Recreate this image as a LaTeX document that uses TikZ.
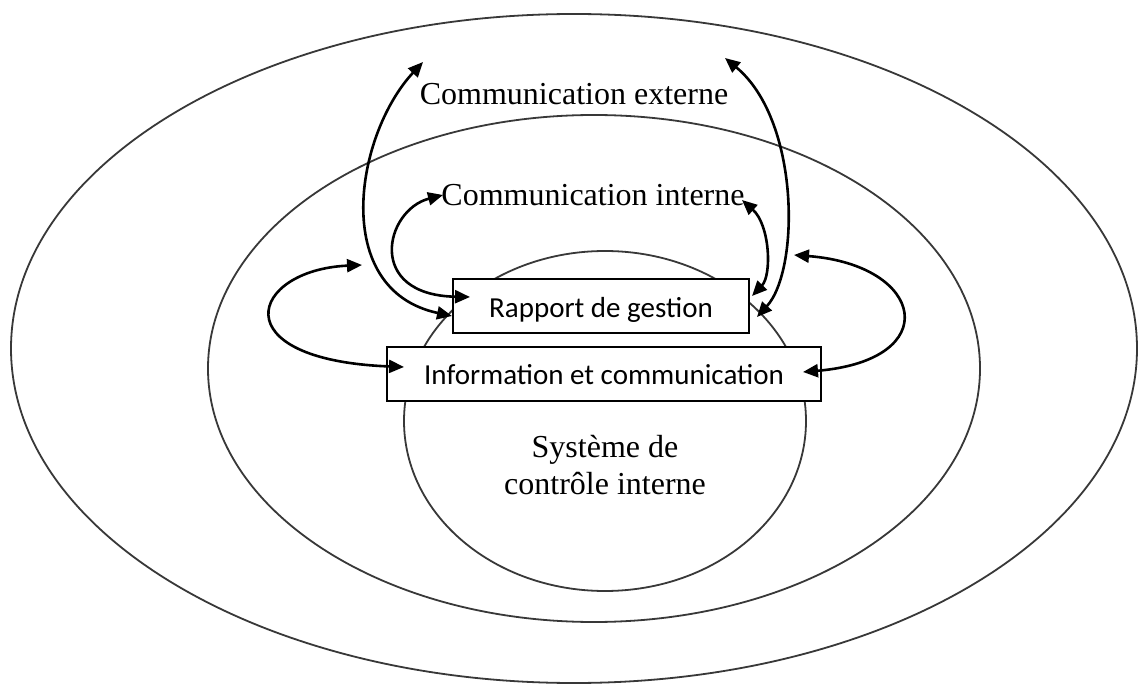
\documentclass[tikz,border=0pt]{standalone}
\usepackage{fontspec}
\setmainfont{Liberation Serif}
\newfontfamily\calibrifont{Carlito}
\usetikzlibrary{arrows.meta}
\begin{document}
\begin{tikzpicture}[x=1pt,y=-1pt,
  ring/.style={draw=black!78, line width=1.8pt},
  box/.style={draw=black, line width=1.6pt, fill=white, inner sep=0pt,
    font=\calibrifont\fontsize{29}{34}\selectfont, text depth=0pt},
  lbl/.style={font=\fontsize{32}{37}\selectfont, inner sep=0pt, anchor=base},
  arr/.style={{Triangle[length=15pt,width=13pt]}-{Triangle[length=15pt,width=13pt]}, line width=2.6pt}
]
\useasboundingbox (0,0) rectangle (1138,684);
\fill[white] (0,0) rectangle (1138,684);

% rings
\draw[ring] (574,348.5) ellipse [x radius=563pt, y radius=334.5pt];
\draw[ring] (594,368.5) ellipse [x radius=386pt, y radius=253.5pt];
\draw[ring] (605,421) ellipse [x radius=201pt, y radius=170pt];

% labels
\node[lbl] (ext) at (574,105) {Communication externe};
\node[lbl] (int) at (593,206) {Communication interne};
\node[lbl] (sys1) at (605,457) {Système de};
\node[lbl] (sys2) at (605,494) {contrôle interne};

% boxes
\node[box, minimum width=296pt, minimum height=54pt, text height=24pt] (rap) at (601,306) {Rapport de gestion};
\node[box, minimum width=434pt, minimum height=54pt, text height=22pt] (info) at (604,374) {Information et communication};

% arrow end points
\coordinate (e1) at (423,62);
\coordinate (e2) at (452,316);
\coordinate (e3) at (725,58);
\coordinate (e4) at (757,317);
\coordinate (i1) at (443,195);
\coordinate (i2) at (470,297);
\coordinate (i3) at (742,200);
\coordinate (i4) at (752,296);
\coordinate (o1) at (362,265);
\coordinate (o2) at (404,367);
\coordinate (o3) at (794,255);
\coordinate (o4) at (803,372);

% arrows
\draw[arr] (e1) .. controls (355,135) and (330,290) .. (e2);
\draw[arr] (e3) .. controls (800,120) and (800,270) .. (e4);
\draw[arr] (i1) .. controls (385,210) and (365,295) .. (i2);
\draw[arr] (i3) .. controls (770,225) and (772,275) .. (i4);
\draw[arr] (o1) .. controls (250,270) and (220,360) .. (o2);
\draw[arr] (o3) .. controls (925,265) and (945,360) .. (o4);
\end{tikzpicture}
\end{document}
